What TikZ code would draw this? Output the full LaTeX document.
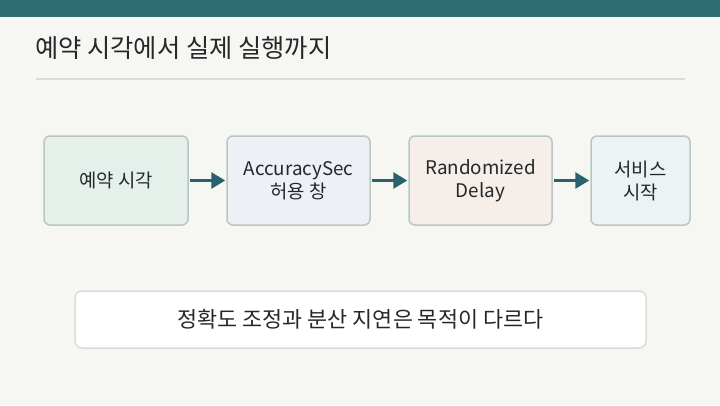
\documentclass[tikz,border=0pt]{standalone}
\usepackage{fontspec}
\setmainfont{Noto Sans CJK KR}
\usetikzlibrary{arrows.meta}
\definecolor{bg}{HTML}{F6F7F3}
\definecolor{topbar}{HTML}{316D75}
\definecolor{rule}{HTML}{D7DCDB}
\definecolor{bordc}{HTML}{B9C6C3}
\definecolor{txt}{HTML}{23282B}
\definecolor{arr}{HTML}{2B6070}
\definecolor{fa}{HTML}{E6F0EA}
\definecolor{fb}{HTML}{EEF0F5}
\definecolor{fc}{HTML}{F5EEE9}
\definecolor{fd}{HTML}{EBF3F5}
\tikzset{
  stepbox/.style={draw=bordc, line width=1.5pt, rounded corners=6pt, minimum height=89pt,
    align=center, text=txt, font=\fontsize{18.8}{23}\selectfont, inner sep=0pt},
  flow/.style={draw=arr, line width=3pt, -{Triangle[length=14pt,width=16pt]}},
}
\begin{document}
\begin{tikzpicture}[x=1pt,y=-1pt]
\useasboundingbox (0,0) rectangle (720,405);
\fill[bg] (0,0) rectangle (720,405);
\fill[topbar] (0,0) rectangle (720,16.5);
\node[anchor=west, text=txt, font=\fontsize{25.3}{28}\selectfont, inner sep=0pt] (title) at (35,48.5) {예약 시각에서 실제 실행까지};
\draw[rule, line width=2pt] (36,78.5) -- (685,78.5);
\node[stepbox, fill=fa, minimum width=144pt] (a) at (116,180.5) {예약 시각};
\node[stepbox, fill=fb, minimum width=143pt] (b) at (298.5,180.5) {AccuracySec\\허용 창};
\node[stepbox, fill=fc, minimum width=143pt] (c) at (480.5,180.5) {Randomized\\Delay};
\node[stepbox, fill=fd, minimum width=99pt] (d) at (640.5,180.5) {서비스\\시작};
\draw[flow, shorten <=1pt, shorten >=1pt] (a) -- (b);
\draw[flow, shorten <=1pt, shorten >=1pt] (b) -- (c);
\draw[flow, shorten <=1pt, shorten >=1pt] (c) -- (d);
\node[draw=rule, line width=1.5pt, fill=white, rounded corners=7pt, minimum width=571pt, minimum height=57pt,
  text=txt, font=\fontsize{21.8}{25}\selectfont, inner sep=0pt] (note) at (360.5,319.5) {정확도 조정과 분산 지연은 목적이 다르다};
\end{tikzpicture}
\end{document}
